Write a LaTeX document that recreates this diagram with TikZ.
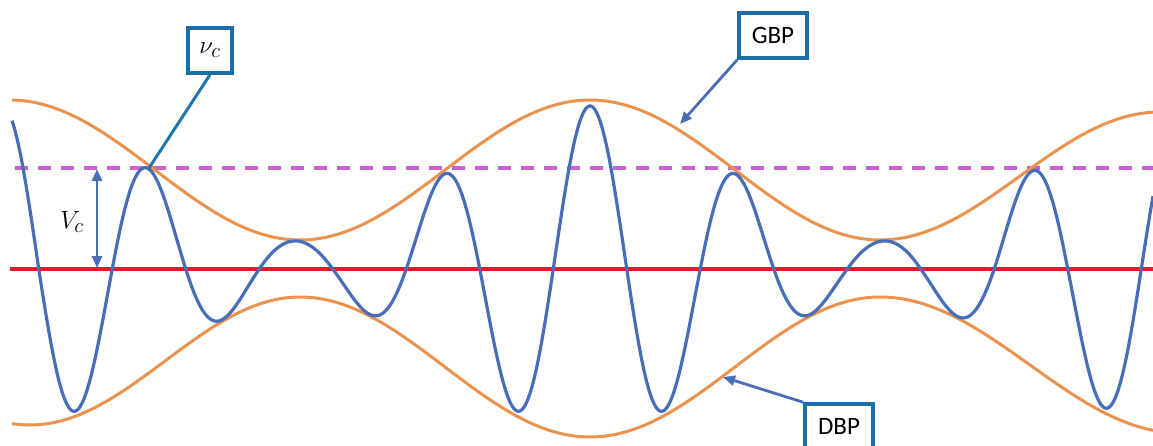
\documentclass[tikz,border=0pt]{standalone}
\usepackage{fontspec}
\setmainfont{Carlito}
\usetikzlibrary{arrows.meta}
\definecolor{envorange}{RGB}{234,146,78}
\definecolor{waveblue}{RGB}{72,110,185}
\definecolor{basered}{RGB}{220,30,42}
\definecolor{dashmag}{RGB}{204,98,208}
\definecolor{boxblue}{RGB}{28,110,168}
\definecolor{nublue}{RGB}{30,118,172}
\tikzset{
  labelbox/.style={draw=boxblue, line width=3.5pt, fill=white, minimum height=45pt, inner sep=0pt, font=\fontsize{25}{29}\selectfont},
  envelope/.style={envorange, line width=3pt},
  wave/.style={waveblue, line width=3.2pt, line join=round},
  pointer/.style={waveblue, line width=2.8pt, -{Triangle[length=12pt,width=10pt]}},
  mathlabel/.style={font=\fontsize{29}{33}\selectfont, inner sep=0pt},
  declare function={
    E(\x)=(\x<=880)*(99+70*cos((\x-590)/580*360))+(\x>880)*(93+64*cos((\x-1160)/280*180));
    F(\x)=(\x<300)*(92+64*cos((\x-30)/270*180))+(\x>=300)*(\x<=880)*(98+70*cos((\x-590)/580*360))+(\x>880)*(96+68*cos((\x-1180)/300*180));
    C(\x)=cos((\x-590)/147*360);
  }
}
\begin{document}
\begin{tikzpicture}[x=1pt,y=-1pt]
\useasboundingbox (0,0) rectangle (1153,445);
% base and threshold lines
\coordinate (redL) at (10,269);
\coordinate (redR) at (1153,269);
\coordinate (dashL) at (15,168);
\coordinate (dashR) at (1153,168);
\draw[basered, line width=3.3pt] (redL) -- (redR);
\draw[dashmag, line width=3.5pt, dash pattern=on 13pt off 10pt] (dashL) -- (dashR);
% envelopes
\draw[envelope] plot[domain=12:1153, samples=300] (\x,{269-E(\x)});
\draw[envelope] plot[domain=12:1153, samples=300] (\x,{269+F(\x)});
% carrier wave
\draw[wave] plot[domain=12:1153, samples=900] (\x,{269-0.965*(C(\x)>0 ? E(\x) : F(\x))*C(\x)});
% V_c arrow
\coordinate (vctop) at (97,169);
\coordinate (vcbot) at (97,268);
\draw[waveblue, line width=2.8pt, {Triangle[length=12pt,width=10pt]}-{Triangle[length=12pt,width=10pt]}] (vctop) -- (vcbot);
\node[mathlabel] (vc) at (72,222) {$V_c$};
% nu_c label
\node[labelbox, minimum width=44pt] (nu) at (210,50.5) {\fontsize{29}{33}\selectfont$\nu_c$};
\coordinate (nuc) at (149,168);
\draw[nublue, line width=3pt] (nu.south) -- (nuc);
% GBP label
\node[labelbox, minimum width=68pt] (gbp) at (773,35.5) {GBP};
\coordinate (gbptip) at (680,124);
\draw[pointer] (gbp.south west) -- (gbptip);
% DBP label
\node[labelbox, minimum width=68pt] (dbp) at (839,426.5) {DBP};
\coordinate (dbptip) at (723,377);
\draw[pointer] (dbp.north west) -- (dbptip);
\end{tikzpicture}
\end{document}
